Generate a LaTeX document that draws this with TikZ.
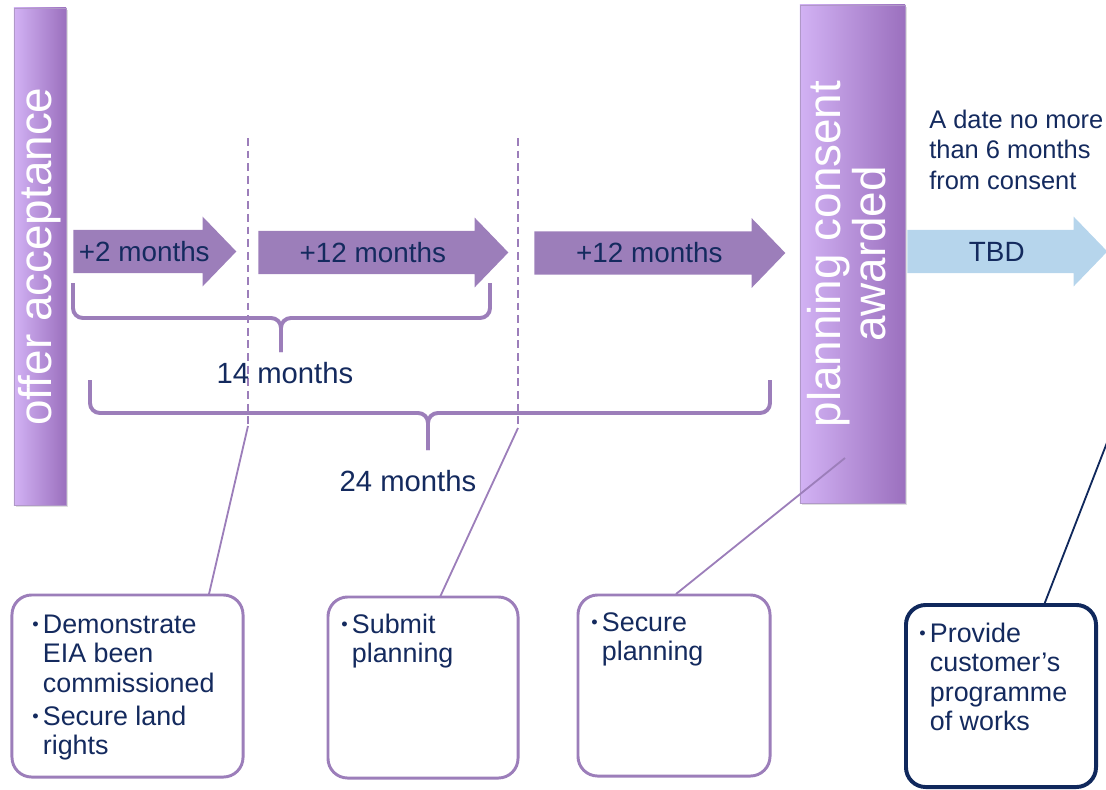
\documentclass[tikz,border=0pt]{standalone}
\usepackage{fontspec}
\setmainfont{Liberation Sans}
\usetikzlibrary{positioning,shapes.arrows,shadows}

\definecolor{navyText}{RGB}{20,42,94}
\definecolor{navyLine}{RGB}{16,40,92}
\definecolor{stagePurple}{RGB}{156,126,186}
\definecolor{barLight}{RGB}{210,178,244}
\definecolor{barDark}{RGB}{155,112,190}
\definecolor{tbdBlue}{RGB}{182,213,236}

\newcommand{\bulletdot}{\raisebox{0.2ex}{\fontsize{13}{13}\selectfont\textbullet}}

\tikzset{
  milestone/.style={draw=stagePurple!80,line width=0.5pt,left color=barLight,right color=barDark,text=white,inner sep=0pt,font=\fontsize{32.6}{28.5}\selectfont,drop shadow={shadow xshift=1.5pt,shadow yshift=-1.5pt,opacity=0.25}},
  stagearrow/.style={single arrow,fill=stagePurple,single arrow head extend=0.33cm,single arrow tip angle=92,inner xsep=0pt,inner ysep=0pt,text height=22.35pt,text depth=8.15pt,text=navyText,font=\fontsize{19.8}{22}\selectfont,anchor=tail},
  spanbrace/.style={draw=stagePurple,line width=2.8pt,rounded corners=7pt},
  checkbox/.style={draw=stagePurple,line width=2.1pt,fill=white,rounded corners=14pt,inner sep=0pt},
  calloutline/.style={draw=stagePurple,line width=1.3pt},
  gate/.style={draw=stagePurple,line width=1.1pt,dash pattern=on 5.5pt off 3.5pt},
  boxtext/.style={anchor=base west,inner sep=0pt,text=navyText,font=\fontsize{19.1}{20.9}\selectfont},
  spantext/.style={text=navyText,font=\fontsize{20.8}{24}\selectfont},
}

\begin{document}
\begin{tikzpicture}[x=0.025cm,y=-0.025cm]
  \useasboundingbox (0,0) rectangle (1106,790);

  % milestones
  \node[milestone,minimum width=1.3cm,minimum height=12.425cm] (offerAcceptance) at (40,256.5) {\rotatebox{90}{offer acceptance}};
  \node[milestone,minimum width=2.625cm,minimum height=12.45cm] (planningConsent) at (852.5,254) {\rotatebox{90}{\begin{tabular}{@{}c@{}}planning consent\\awarded\end{tabular}}};

  % stages
  \node[stagearrow,minimum height=4.075cm] (twoMonths) at (73,251.5) {+2 months};
  \node[stagearrow,minimum height=6.25cm] (twelveMonthsA) at (258,252.5) {+12 months};
  \node[stagearrow,minimum height=6.275cm] (twelveMonthsB) at (534,253) {+12 months};
  \node[stagearrow,fill=tbdBlue,minimum height=5cm] (tbd) at (907,251.5) {TBD};

  \coordinate (gateOneTop) at (248,138);
  \coordinate (gateOneFoot) at (248,426);
  \coordinate (gateTwoTop) at (518,138);
  \coordinate (gateTwoFoot) at (518,428);
  \draw[gate] (gateOneTop) -- (gateOneFoot);
  \draw[gate] (gateTwoTop) -- (gateTwoFoot);

  % braces
  \draw[spanbrace] (73,283) -- (73,318) -- (281,318) -- (281,352);
  \draw[spanbrace] (490,283) -- (490,318) -- (281,318) -- (281,352);
  \node[spantext] (fourteenMonths) at (285,373) {14 months};
  \draw[spanbrace] (90,380) -- (90,413) -- (428,413) -- (428,450);
  \draw[spanbrace] (770,380) -- (770,413) -- (428,413) -- (428,450);
  \node[spantext] (twentyFourMonths) at (408,481) {24 months};

  \node[boxtext,font=\fontsize{18.1}{22}\selectfont] (consentDate) at (929,128) {\begin{tabular}[t]{@{}l@{}}A date no more\\than 6 months\\from consent\end{tabular}};

  % callouts
  \coordinate (eiaTop) at (209,594);
  \coordinate (submitTop) at (440,597);
  \coordinate (secureTop) at (676,594);
  \coordinate (consentMark) at (845,458);
  \coordinate (worksTop) at (1044,605);
  \coordinate (worksMark) at (1108,440);
  \draw[calloutline] (eiaTop) -- (gateOneFoot);
  \draw[calloutline] (submitTop) -- (gateTwoFoot);
  \draw[calloutline] (secureTop) -- (consentMark);
  \draw[calloutline,draw=navyLine] (worksTop) -- (worksMark);

  \node[checkbox,minimum width=5.775cm,minimum height=4.55cm] (eiaBox) at (127.5,686) {};
  \node[checkbox,minimum width=4.75cm,minimum height=4.525cm] (submitBox) at (423,687.5) {};
  \node[checkbox,minimum width=4.8cm,minimum height=4.525cm] (secureBox) at (674,685.5) {};
  \node[checkbox,draw=navyLine,line width=2.8pt,minimum width=4.75cm,minimum height=4.55cm] (worksBox) at (1001,696) {};

  \node[boxtext] (eiaText) at (32,633.5) {\begin{tabular}[t]{@{}l@{\hspace{3pt}}l@{}}\bulletdot & Demonstrate\\ & EIA been\\ & commissioned\\[2.5pt] \bulletdot & Secure land\\ & rights\end{tabular}};
  \node[boxtext] (submitText) at (341,633.5) {\begin{tabular}[t]{@{}l@{\hspace{3pt}}l@{}}\bulletdot & Submit\\ & planning\end{tabular}};
  \node[boxtext] (secureText) at (591,631.5) {\begin{tabular}[t]{@{}l@{\hspace{3pt}}l@{}}\bulletdot & Secure\\ & planning\end{tabular}};
  \node[boxtext] (worksText) at (919,642.5) {\begin{tabular}[t]{@{}l@{\hspace{3pt}}l@{}}\bulletdot & Provide\\ & customer’s\\ & programme\\ & of works\end{tabular}};
\end{tikzpicture}
\end{document}
